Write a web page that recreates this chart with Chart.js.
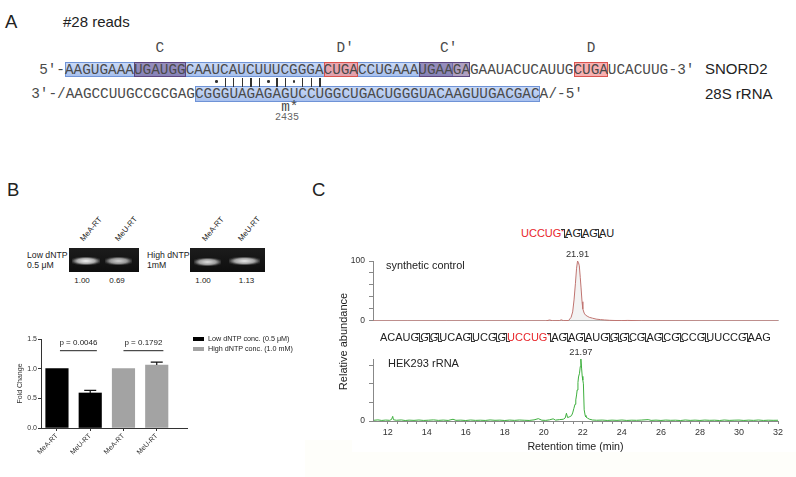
<!DOCTYPE html>
<html><head><meta charset="utf-8">
<script src="https://cdn.jsdelivr.net/npm/chart.js@4.4.1/dist/chart.umd.min.js"></script>
<style>
html,body{margin:0;padding:0;background:#fff;}
#page{position:relative;width:796px;height:477px;overflow:hidden;font-family:"Liberation Sans",Arial,sans-serif;color:#222;}
.t{position:absolute;white-space:nowrap;line-height:1;}
.box{position:absolute;box-sizing:border-box;}
.cv{position:absolute;}
.fm{display:inline-block;position:relative;width:1px;height:9px;background:#333;vertical-align:-1px;}
.fm:before{content:'';position:absolute;left:-3px;top:0;width:3px;height:1px;background:#333;}
.fm:after{content:'';position:absolute;left:1px;bottom:0;width:3px;height:1px;background:#333;}
.red{color:#e8262b;}
.ast{font-size:7px;vertical-align:3px;}
</style></head>
<body><div id="page">
<canvas id="barChart" class="cv" width="200" height="147" style="left:0px;top:330px;"></canvas>
<canvas id="ctrlChart" class="cv" width="460" height="85" style="left:330px;top:245px;"></canvas>
<canvas id="rrnaChart" class="cv" width="460" height="117" style="left:330px;top:345px;"></canvas>
</div>
<script>
// ================= DATA =================
const barCategories = ['MeA-RT', 'MeU-RT', 'MeA-RT', 'MeU-RT'];
const lowDntpFold = [1.00, 0.59];
const lowDntpErr = [0, 0.045];
const highDntpFold = [1.00, 1.06];
const highDntpErr = [0, 0.05];
const seriesNames = ['Low dNTP conc. (0.5 \u03bcM)', 'High dNTP conc. (1.0 mM)'];
const pValueLabels = ['p = 0.0046', 'p = 0.1792'];

const gelLanes = ['MeA-RT', 'MeU-RT'];
const gelLowRatios = ['1.00', '0.69'];
const gelHighRatios = ['1.00', '1.13'];

const controlTime = [11.25, 13.0, 15.0, 17.0, 19.0, 20.1, 20.3, 20.45, 20.8, 20.9, 21.0, 21.27, 21.4, 21.48, 21.55, 21.62, 21.68, 21.73, 21.78, 21.82, 21.87, 21.91, 21.96, 22.0, 22.07, 22.13, 22.22, 22.33, 22.5, 22.68, 22.9, 23.1, 23.36, 23.6, 24.0, 24.3, 25.0, 28.0, 32.0];
const controlAbundance = [0, 0, 0, 0, 0, 0, 1.5, 0.3, 0.5, 1.8, 0.4, 0.6, 6, 15, 35, 62, 88, 100, 97, 92, 72, 55, 32, 20, 13, 10, 8, 6, 4.5, 3, 2.2, 1.6, 1, 0.7, 0.5, 0.8, 0.2, 0, 0];

const rrnaTime = [11.3, 11.5, 11.7, 11.9, 12.1, 12.2, 12.26, 12.3, 12.45, 12.7, 12.9, 13.1, 13.35, 13.6, 13.85, 14.1, 14.35, 14.6, 14.85, 15.1, 15.35, 15.5, 15.75, 16.0, 16.25, 16.5, 16.75, 17.0, 17.25, 17.5, 17.75, 18.0, 18.25, 18.5, 18.75, 19.0, 19.25, 19.5, 19.72, 19.9, 20.1, 20.3, 20.48, 20.6, 20.8, 21.0, 21.1, 21.16, 21.22, 21.3, 21.42, 21.48, 21.54, 21.6, 21.64, 21.68, 21.71, 21.75, 21.78, 21.83, 21.87, 21.9, 21.94, 21.97, 22.0, 22.03, 22.07, 22.12, 22.16, 22.25, 22.33, 22.5, 22.71, 23.0, 23.25, 23.5, 23.75, 24.0, 24.25, 24.5, 24.75, 25.0, 25.35, 25.5, 25.75, 26.0, 26.25, 26.5, 26.75, 27.0, 27.25, 27.5, 27.75, 28.0, 28.25, 28.5, 28.75, 29.0, 29.25, 29.5, 29.75, 30.0, 30.25, 30.5, 30.75, 31.0, 31.25, 31.5, 31.75, 32.0];
const rrnaAbundance = [1.2, 1.8, 0.9, 1.5, 1.1, 2.5, 7.5, 2.0, 1.2, 1.7, 0.8, 1.4, 1.0, 1.6, 0.9, 1.3, 1.8, 1.0, 1.5, 0.9, 2.8, 1.1, 1.4, 0.8, 1.6, 1.0, 1.3, 0.9, 1.7, 1.1, 1.4, 0.8, 1.5, 1.0, 1.6, 1.2, 0.9, 1.8, 3.8, 1.3, 1.0, 1.9, 3.5, 1.4, 2.2, 2.8, 5, 12.5, 5.5, 6.5, 8.5, 13, 20, 27, 34, 42, 50, 62, 71, 77, 88, 100, 84, 72, 66, 60, 18, 9, 6.5, 4.5, 3, 1.6, 1.2, 1.5, 0.9, 1.4, 1.0, 1.6, 0.9, 1.3, 1.1, 1.5, 2.2, 1.0, 1.4, 0.9, 1.5, 1.1, 1.3, 0.8, 1.6, 1.0, 1.4, 0.9, 1.5, 1.1, 1.3, 0.8, 1.6, 1.0, 1.3, 1.5, 0.9, 1.4, 1.0, 1.6, 0.9, 1.3, 1.1, 1.2];

const peakRtLabels = ['21.91', '21.97'];
const rtTickLabels = [12, 14, 16, 18, 20, 22, 24, 26, 28, 30, 32];
const abundanceTickLabels = [0, 50, 100];

const snordSeq = 'AAGUGAAAUGAUGGCAAUCAUCUUUCGGGACUGACCUGAAAUGAAGAGAAUACUCAUUGCUGAUCACUUG';
const rrnaSeq = 'AAGCCUUGCCGCGAGCGGGUAGAGAGUCCUGGCUGACUGGGUACAAGUUGACGACA';
const pairMarks = '\u2022|||||\u2022||\u2022|||';
const topFragments = ['UCCUG*', 'AG', 'AG', 'AU'];
const midFragments = ['ACAUG', 'G', 'G', 'UCAG', 'UCG', 'G', 'UCCUG*', 'AG', 'AG', 'AUG', 'G', 'G', 'CG', 'AG', 'CG', 'CCG', 'UUCCG', 'AAG'];

// ================= HTML TEXT / SHAPES =================
const page = document.getElementById('page');
function T(x, yc, text, o = {}) {
  const d = document.createElement('div');
  d.className = 't';
  const fs = o.size || 10;
  d.style.fontSize = fs + 'px';
  if (o.family) d.style.fontFamily = o.family;
  if (o.color) d.style.color = o.color;
  d.style.top = (yc - (o.k || 0.49) * fs) + 'px';
  d.style.left = x + 'px';
  if (o.align === 'c') d.style.transform = 'translateX(-50%)';
  if (o.align === 'r') d.style.transform = 'translateX(-100%)';
  if (o.html) d.innerHTML = text; else d.textContent = text;
  page.appendChild(d);
  return d;
}
function R(x, y, w, h, css) {
  const d = document.createElement('div');
  d.className = 'box';
  d.style.left = x + 'px'; d.style.top = y + 'px';
  d.style.width = w + 'px'; d.style.height = h + 'px';
  Object.assign(d.style, css || {});
  page.appendChild(d);
  return d;
}

// very faint tinted strip at the bottom
R(305, 452, 491, 25, {background: '#fefefa'});
R(305, 440, 47, 12, {background: '#fefefa'});

// ---------- Panel A ----------
const MONO = '"Liberation Mono","Courier New",monospace';
const MS = 14.37, CW = 8.622;
const L1X = 65, L2X = 195 - 15 * CW;
const blueCss = {background: 'linear-gradient(#c9d9f6,#a7c0ee)', border: '1px solid #6f93d6'};
const purpleCss = {background: 'rgba(110,80,140,0.55)', border: '1px solid #5b4680'};
const redCss = {background: 'rgba(245,150,150,0.75)', border: '1px solid #d9534f'};
function seqBox(x0, a, b, y, h, css) { R(x0 + a * CW, y, (b - a) * CW, h, css); }
seqBox(L1X, 0, 45, 62, 15, blueCss);
seqBox(L1X, 8, 14, 62, 15, purpleCss);
seqBox(L1X, 41, 47, 62, 15, purpleCss);
seqBox(L1X, 30, 34, 62, 15, redCss);
seqBox(L1X, 59, 63, 62, 15, redCss);
seqBox(L2X, 15, 55, 86, 15.7, blueCss);

const seqCol = '#4a4a4a';
T(L1X, 69.5, '5\u2032-', {size: MS, family: MONO, color: seqCol, align: 'r', k: 0.47});
T(L1X, 69.5, snordSeq, {size: MS, family: MONO, color: seqCol, k: 0.47});
T(L1X + snordSeq.length * CW, 69.5, '-3\u2032', {size: MS, family: MONO, color: seqCol, k: 0.47});
T(L2X, 94, '3\u2032-/', {size: MS, family: MONO, color: seqCol, align: 'r', k: 0.47});
T(L2X, 94, rrnaSeq, {size: MS, family: MONO, color: seqCol, k: 0.47});
T(L2X + rrnaSeq.length * CW, 94, '/-5\u2032', {size: MS, family: MONO, color: seqCol, k: 0.47});

[['C', 11], ['D\u2032', 32], ['C\u2032', 44], ['D', 61]].forEach(([s, c]) => {
  T(L1X + c * CW - CW / 2, 48, s, {size: MS, family: MONO, color: seqCol, k: 0.47});
});
pairMarks.split('').forEach((ch, i) => {
  const cx = L2X + (17 + i) * CW + CW / 2;
  if (ch === '|') R(cx - 0.6, 77.5, 1.3, 9, {background: '#333'});
  else R(cx - 1.3, 80.3, 2.6, 2.6, {background: '#333', borderRadius: '50%'});
});
T(L2X + 25 * CW, 107, 'm*', {size: MS, family: MONO, color: seqCol, k: 0.47});
T(275, 117.5, '2435', {size: 10, family: MONO, color: '#666', k: 0.47});
T(705, 68.3, 'SNORD2', {size: 15, color: '#222'});
T(705, 93.3, '28S rRNA', {size: 15, color: '#222'});
T(5, 21.7, 'A', {size: 18.5, color: '#222'});
T(63, 21.7, '#28 reads', {size: 15, color: '#222'});

// ---------- Panel B ----------
T(7, 190, 'B', {size: 18.5, color: '#222'});
function gel(x, w, bands) {
  R(x, 247.5, w, 24.3, {background: 'linear-gradient(#1c1c1c,#0e0e0e)'});
  bands.forEach(([bx, bw, by, a]) => {
    R(bx, by - 4, bw, 8, {background: `radial-gradient(ellipse at center, rgba(245,245,245,${a}) 0%, rgba(210,210,210,${a * 0.8}) 45%, rgba(120,120,120,${a * 0.3}) 70%, rgba(0,0,0,0) 85%)`});
  });
}
gel(69, 70.3, [[71.5, 28, 260.5, 1.0], [105, 27, 261.3, 0.85]]);
gel(190, 75, [[193.5, 27, 261.5, 0.9], [229, 31, 261, 0.95]]);
function gelLabel(x0, y0, s) {
  const d = T(x0, y0 - 4, s, {size: 7.8, color: '#222'});
  d.style.top = (y0 - 8) + 'px';
  d.style.transformOrigin = '0 100%';
  d.style.transform = 'rotate(-50deg)';
}
gelLabel(85, 243, gelLanes[0]); gelLabel(120, 243, gelLanes[1]);
gelLabel(207, 243, gelLanes[0]); gelLabel(243, 243, gelLanes[1]);
T(27, 255, 'Low dNTP', {size: 8.7});
T(27, 265.5, '0.5 \u03bcM', {size: 8.7});
T(147, 255, 'High dNTP', {size: 8.7});
T(147, 265.5, '1mM', {size: 8.7});
T(82, 280.5, gelLowRatios[0], {size: 8, align: 'c'});
T(117, 280.5, gelLowRatios[1], {size: 8, align: 'c'});
T(203, 280.5, gelHighRatios[0], {size: 8, align: 'c'});
T(246.5, 280.5, gelHighRatios[1], {size: 8, align: 'c'});
// legend
R(192.5, 336.5, 11, 4, {background: '#000'});
R(192.5, 346.5, 11, 4, {background: '#a3a3a3'});
T(208, 338.5, seriesNames[0], {size: 7.2});
T(208, 348.5, seriesNames[1], {size: 7.2});

// ---------- Panel C text ----------
T(312, 190, 'C', {size: 18.5, color: '#222'});
function fragHtml(frags) {
  return frags.map(f => {
    if (f.includes('*')) return '<span class="red">' + f.replace('*', '<span class="ast">*</span>') + '</span>';
    return f;
  }).join('<span class="fm"></span>');
}
T(521, 233, fragHtml(topFragments), {size: 11, html: true, color: '#222'});
T(380, 337.5, fragHtml(midFragments), {size: 11, html: true, color: '#222'});
T(386, 265.5, 'synthetic control', {size: 10.9, color: '#222', k: 0.55});
T(388, 363, 'HEK293 rRNA', {size: 11, color: '#222'});
const ra = T(343, 341, 'Relative abundance', {size: 11, color: '#222'});
ra.style.transform = 'translate(-50%,-0%) rotate(-90deg)';
ra.style.transformOrigin = '50% 50%';

// ================= CHARTS =================
Chart.defaults.font.family = '"Liberation Sans", Arial, sans-serif';
Chart.defaults.color = '#333';
Chart.defaults.animation = false;

const barExtras = {
  id: 'barExtras',
  afterDatasetsDraw(chart) {
    const {ctx, scales: {x, y}} = chart;
    ctx.save();
    ctx.strokeStyle = '#111'; ctx.lineWidth = 1.2;
    const errs = [lowDntpErr, highDntpErr];
    chart.data.datasets.forEach((ds, di) => {
      ds.data.forEach((p, j) => {
        const e = errs[di][j];
        if (!e) return;
        const px = x.getPixelForValue(p.x);
        const y0 = y.getPixelForValue(p.y), y1 = y.getPixelForValue(p.y + e);
        ctx.beginPath(); ctx.moveTo(px, y0); ctx.lineTo(px, y1);
        ctx.moveTo(px - 6, y1); ctx.lineTo(px + 6, y1); ctx.stroke();
      });
    });
    const brackets = [[1.09, 2.2], [3.0, 4.2]];
    ctx.lineWidth = 1; ctx.strokeStyle = '#222';
    ctx.fillStyle = '#222'; ctx.font = '8px "Liberation Sans"';
    ctx.textAlign = 'center'; ctx.textBaseline = 'middle';
    brackets.forEach(([a, b], i) => {
      const xa = x.getPixelForValue(a), xb = x.getPixelForValue(b);
      const yl = y.getPixelForValue(1.303);
      ctx.beginPath(); ctx.moveTo(xa, yl); ctx.lineTo(xb, yl); ctx.stroke();
      ctx.fillText(pValueLabels[i], (xa + xb) / 2, y.getPixelForValue(1.428));
    });
    ctx.restore();
  }
};

new Chart(document.getElementById('barChart'), {
  type: 'bar',
  data: {
    datasets: [
      {label: seriesNames[0], data: lowDntpFold.map((v, i) => ({x: i + 1, y: v})), backgroundColor: '#000', barThickness: 22.5, grouped: false},
      {label: seriesNames[1], data: highDntpFold.map((v, i) => ({x: i + 3, y: v})), backgroundColor: '#a3a3a3', barThickness: 22.5, grouped: false}
    ]
  },
  options: {
    responsive: false, devicePixelRatio: 1, animation: false,
    layout: {padding: {top: 9, right: 13, left: 0, bottom: 0}},
    plugins: {legend: {display: false}, tooltip: {enabled: false}},
    scales: {
      x: {
        type: 'linear', min: 0.52, max: 4.91, offset: false,
        afterFit(s) { s.height = 49; s.paddingLeft = 0; s.paddingRight = 0; },
        afterBuildTicks(s) { s.ticks = barCategories.map((_, i) => ({value: i + 1})); },
        ticks: {autoSkip: false, minRotation: 45, maxRotation: 45, font: {size: 7}, color: '#333', padding: 1,
          callback: v => barCategories[Math.round(v) - 1]},
        grid: {drawOnChartArea: false, offset: false, tickLength: 3, color: '#333'},
        border: {color: '#333'}
      },
      y: {
        min: 0, max: 1.5,
        afterFit(s) { s.width = 41; },
        ticks: {stepSize: 0.5, font: {size: 7}, color: '#333', padding: 1, callback: v => v.toFixed(1)},
        grid: {drawOnChartArea: false, tickLength: 3, color: '#333'},
        border: {color: '#333'},
        title: {display: true, text: 'Fold Change', font: {size: 7}, color: '#333', padding: {top: 16, bottom: 0}}
      }
    }
  },
  plugins: [barExtras]
});

const peakLabel = {
  id: 'peakLabel',
  afterDatasetsDraw(chart, args, opts) {
    const pts = chart.data.datasets[0].data;
    let best = pts[0];
    pts.forEach(p => { if (p.y > best.y) best = p; });
    const {ctx} = chart;
    ctx.save();
    ctx.font = '9.3px "Liberation Sans"'; ctx.fillStyle = '#333';
    ctx.textAlign = 'center'; ctx.textBaseline = 'middle';
    ctx.fillText(opts.text, chart.scales.x.getPixelForValue(best.x), chart.scales.y.getPixelForValue(best.y) - 6.2);
    ctx.restore();
  }
};

function yAxis() {
  return {
    min: 0, max: 100,
    afterFit(s) { s.width = 43; },
    ticks: {stepSize: 10, font: {size: 8.5}, color: '#333', padding: 4,
      callback: v => abundanceTickLabels.includes(v) ? String(v) : ''},
    grid: {drawOnChartArea: false, tickLength: 4, color: '#888'},
    border: {color: '#888'}
  };
}

new Chart(document.getElementById('ctrlChart'), {
  type: 'line',
  data: {datasets: [{data: controlTime.map((t, i) => ({x: t, y: controlAbundance[i]})),
    borderColor: '#c07470', borderWidth: 1, pointRadius: 0, tension: 0,
    fill: 'origin', backgroundColor: 'rgba(140,140,140,0.10)'}]},
  options: {
    responsive: false, devicePixelRatio: 1, animation: false,
    layout: {padding: {top: 16, right: 12, left: 0, bottom: 0}},
    plugins: {legend: {display: false}, tooltip: {enabled: false}, peakLabel: {text: peakRtLabels[0]}},
    scales: {
      x: {type: 'linear', min: 11.25, max: 32,
        afterFit(s) { s.height = 8; },
        ticks: {display: false},
        grid: {drawOnChartArea: false, drawTicks: false, color: '#aaa'},
        border: {color: '#bbb'}},
      y: yAxis()
    }
  },
  plugins: [peakLabel]
});

new Chart(document.getElementById('rrnaChart'), {
  type: 'line',
  data: {datasets: [{data: rrnaTime.map((t, i) => ({x: t, y: rrnaAbundance[i]})),
    borderColor: '#3daf3d', borderWidth: 1, pointRadius: 0, tension: 0, fill: false}]},
  options: {
    responsive: false, devicePixelRatio: 1, animation: false,
    layout: {padding: {top: 14, right: 12, left: 0, bottom: 0}},
    plugins: {legend: {display: false}, tooltip: {enabled: false}, peakLabel: {text: peakRtLabels[1]}},
    scales: {
      x: {type: 'linear', min: 11.25, max: 32,
        afterFit(s) { s.height = 41; },
        afterBuildTicks(s) { s.ticks = s.ticks.filter(t => t.value >= 11.5); },
        ticks: {stepSize: 0.5, autoSkip: false, maxRotation: 0, minRotation: 0, font: {size: 9}, color: '#333', padding: 3,
          callback: v => rtTickLabels.includes(v) ? String(v) : ''},
        grid: {drawOnChartArea: false, tickLength: 3, color: '#888'},
        border: {color: '#888'},
        title: {display: true, text: 'Retention time (min)', font: {size: 10.7}, color: '#222', padding: {top: 0, bottom: 8.6}}},
      y: yAxis()
    }
  },
  plugins: [peakLabel]
});
</script>
</body></html>
